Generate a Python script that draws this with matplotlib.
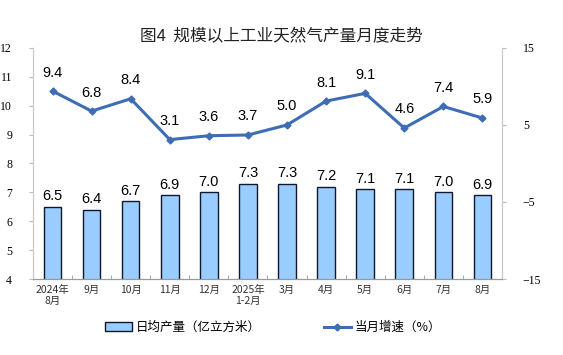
import matplotlib
matplotlib.use("Agg")
import matplotlib.pyplot as plt
import numpy as np

plt.rcParams['font.family'] = ['Liberation Serif', 'Noto Sans CJK SC']

# data
months = ["2024年\n8月", "9月", "10月", "11月", "12月", "2025年\n1-2月",
          "3月", "4月", "5月", "6月", "7月", "8月"]
daily_output = [6.5, 6.4, 6.7, 6.9, 7.0, 7.3, 7.3, 7.2, 7.1, 7.1, 7.0, 6.9]
growth_rate = [9.4, 6.8, 8.4, 3.1, 3.6, 3.7, 5.0, 8.1, 9.1, 4.6, 7.4, 5.9]

bar_color = "#99CCFF"
line_color = "#3E6DB5"
sans = ['Liberation Sans', 'Noto Sans CJK SC']
cjk = ['Noto Sans CJK SC', 'DejaVu Sans']

fig = plt.figure(figsize=(5.63, 3.55), dpi=100)
ax = fig.add_axes([0.0586, 0.214, 0.833, 0.651])
ax2 = ax.twinx()

x = np.arange(len(months))
ax.bar(x, daily_output, width=0.45, color=bar_color, edgecolor="#10182a",
       linewidth=1.0, zorder=2, label="日均产量（亿立方米）")
for xi, v in zip(x, daily_output):
    ax.text(xi, v + 0.12, f"{v:.1f}", ha="center", va="bottom",
            fontsize=10.5, family=sans)

ax2.plot(x, growth_rate, color=line_color, linewidth=2.2, marker="D",
         markersize=3.5, zorder=3, label="当月增速（%）")
for xi, v in zip(x, growth_rate):
    ax2.text(xi, v + 1.5, f"{v:.1f}", ha="center", va="bottom",
             fontsize=10.5, family=sans)

ax.set_xlim(-0.5, len(months) - 0.5)
ax.set_ylim(4, 12)
ax.set_yticks(range(4, 13))
ax2.set_ylim(-15, 15)
ax2.set_yticks([-15, -5, 5, 15])

ax.set_xticks(x)
ax.set_xticklabels(months, fontsize=7.5, family=cjk, color="#333333")
ax.set_xticks(np.arange(-0.5, len(months), 1), minor=True)
ax.tick_params(axis="x", which="major", length=0, pad=4)
ax.tick_params(axis="x", which="minor", length=3, direction="in", color="#999999")
ax.tick_params(axis="y", length=3, direction="out", color="#bbbbbb", labelsize=8.5, pad=12)
ax2.tick_params(axis="y", length=3, direction="out", color="#bbbbbb", labelsize=8.5, pad=12)

for a in (ax, ax2):
    a.spines["top"].set_visible(False)
    a.spines["left"].set_color("#c8c8c8")
    a.spines["right"].set_color("#c8c8c8")
    a.spines["bottom"].set_color("#999999")

fig.text(0.5, 0.896, "图4  规模以上工业天然气产量月度走势", ha="center",
         va="center", fontsize=12, family=cjk, color="#222222")

h1, l1 = ax.get_legend_handles_labels()
h2, l2 = ax2.get_legend_handles_labels()
fig.legend(h1 + h2, l1 + l2, loc="center", bbox_to_anchor=(0.485, 0.077),
           ncol=2, frameon=False, prop={"family": cjk, "size": 9},
           columnspacing=5.0, handlelength=2.2, handleheight=0.7,
           handletextpad=0.3)

fig.savefig("out.png", dpi=100)
